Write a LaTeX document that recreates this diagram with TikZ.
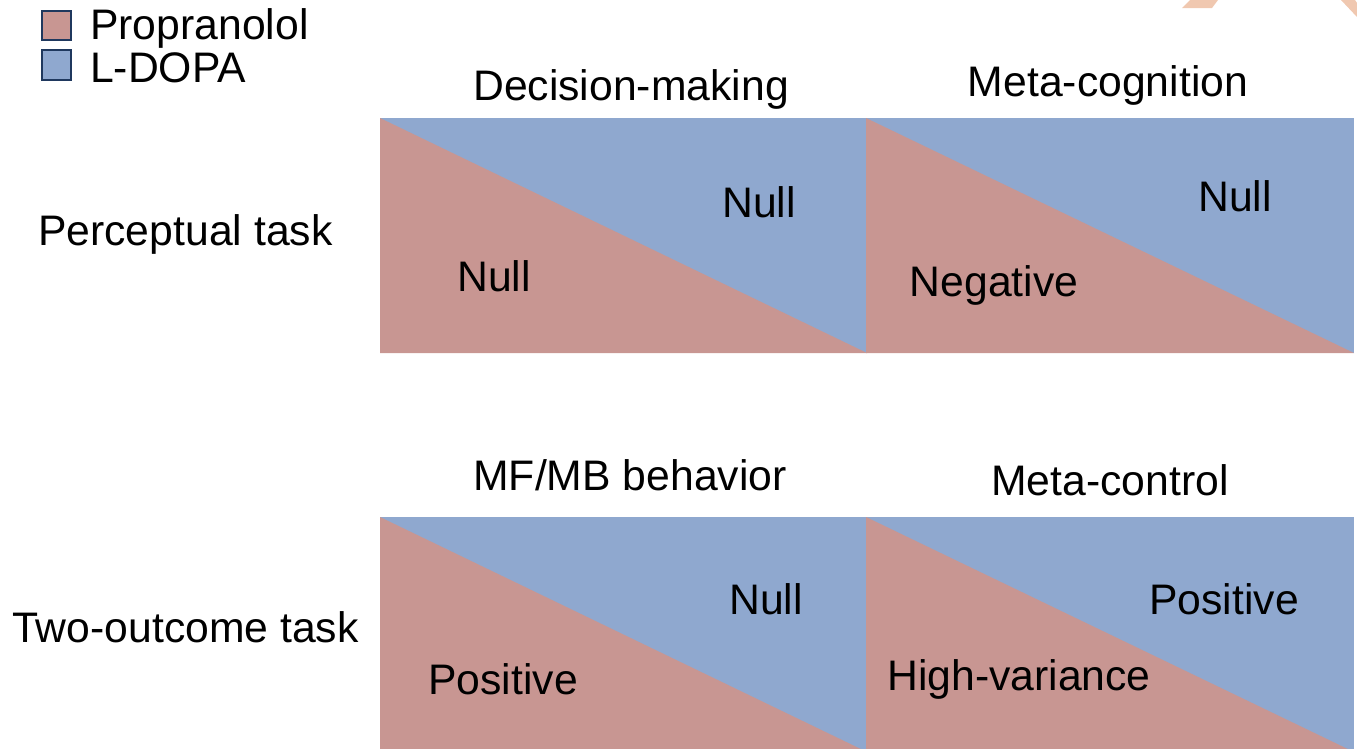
\documentclass[tikz,border=0pt]{standalone}
\usepackage{fontspec}
\setmainfont{Liberation Sans}
\definecolor{propcol}{RGB}{200,150,146}
\definecolor{dopacol}{RGB}{143,168,207}
\definecolor{keyline}{RGB}{31,56,94}
\definecolor{peach}{RGB}{240,200,176}

\begin{document}
\begin{tikzpicture}[x=1pt,y=-1pt,
    lbl/.style={font=\fontsize{42.7}{50}\selectfont,inner sep=0pt,anchor=base},
    keybox/.style={draw=keyline,line width=2.2pt}]
  \clip (0,0) rectangle (1357,748);

  % Leftover of an arrow, top right corner
  \fill[peach] (1190,0) -- (1218,0) -- (1212,8) -- (1182,8) -- cycle;
  \fill[peach] (1341,0) -- (1355,0) -- (1357,3) -- (1357,17) -- cycle;

  % Legend
  \filldraw[keybox,fill=propcol] (42,11) rectangle (71,40);
  \filldraw[keybox,fill=dopacol] (42,50) rectangle (71,80);
  \node[lbl,anchor=base west] (prop) at (90,39) {Propranolol};
  \node[lbl,anchor=base west] (dopa) at (90,82) {L-DOPA};

  % Panels: L-DOPA above the diagonal, propranolol below
  \foreach \x/\w/\y in {380/487/118, 866/488/118, 380/487/517, 866/488/517} {
    \fill[dopacol] (\x,\y) rectangle ++(\w,235);
    \fill[propcol] (\x,\y) -- ++(\w,235) -- ++(-\w,0) -- cycle;
  }

  % Column and row titles
  \node[lbl] (dm) at (631,100) {Decision-making};
  \node[lbl] (mc) at (1108,96) {Meta-cognition};
  \node[lbl] (mfmb) at (630,490) {MF/MB behavior};
  \node[lbl] (mctl) at (1110,495) {Meta-control};
  \node[lbl,anchor=base west] (perc) at (38,245) {Perceptual task};
  \node[lbl,anchor=base west] (two) at (12,642) {Two-outcome task};

  % Effects
  \node[lbl] (dmdopa) at (759,217) {Null};
  \node[lbl] (dmprop) at (494,291) {Null};
  \node[lbl] (mcdopa) at (1235,211) {Null};
  \node[lbl] (mcprop) at (994,296) {Negative};
  \node[lbl] (mfdopa) at (766,614) {Null};
  \node[lbl] (mfprop) at (503,694) {Positive};
  \node[lbl] (ctldopa) at (1224,614) {Positive};
  \node[lbl] (ctlprop) at (1019,690) {High-variance};
\end{tikzpicture}
\end{document}
